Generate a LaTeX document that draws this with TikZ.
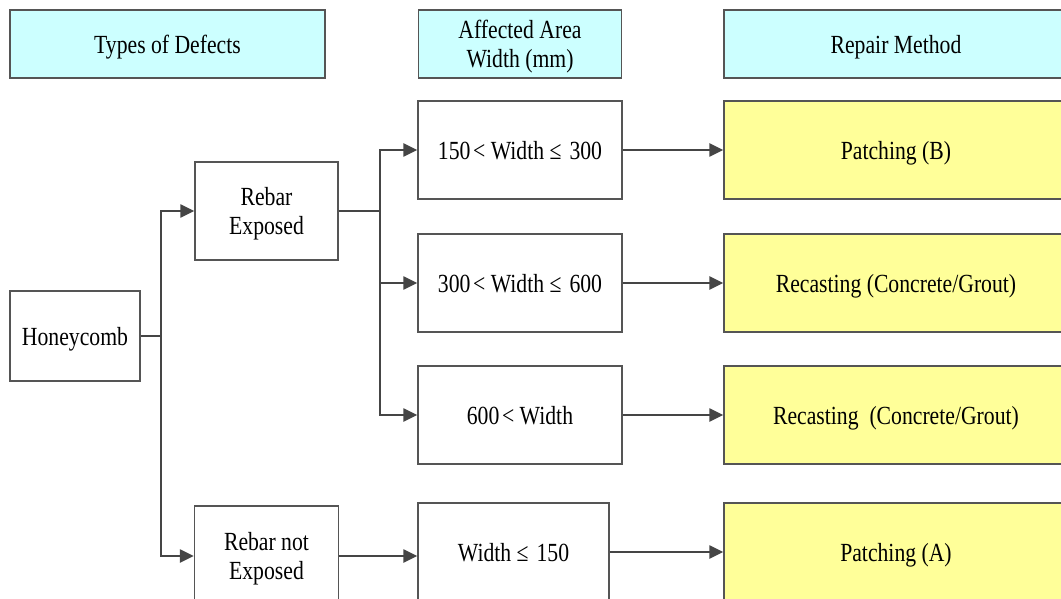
\documentclass[tikz,border=0pt]{standalone}
\usepackage{fontspec}
\setmainfont{Liberation Serif}[FakeStretch=0.83]
\usetikzlibrary{arrows.meta}
\definecolor{hdrfill}{HTML}{CCFFFF}
\definecolor{resfill}{HTML}{FFFF99}
\definecolor{edge}{HTML}{555555}
\definecolor{wire}{HTML}{454545}
\begin{document}
\begin{tikzpicture}[x=0.75pt,y=-0.75pt,
  box/.style={draw=edge, line width=1.1pt, align=center, inner sep=0pt,
    text depth=0pt, font=\fontsize{19.6}{22}\selectfont},
  hdr/.style={box, fill=hdrfill, minimum height=51pt},
  res/.style={box, fill=resfill, minimum width=258pt, minimum height=73.5pt},
  mid/.style={box, fill=white, minimum width=153pt, minimum height=73.5pt},
  wireline/.style={draw=wire, line width=1.1pt},
  arr/.style={wireline, -{Triangle[length=10.5pt,width=10pt]}}
]
\useasboundingbox (0,0) rectangle (1061,599);
\clip (0,0) rectangle (1061,599);

% column headings
\node[hdr, minimum width=236.25pt] (h1) at (167.5,44) {Types of Defects};
\node[hdr, minimum width=152.25pt] (h2) at (520,44) {Affected Area\\Width (mm)};
\node[hdr, minimum width=258pt] (h3) at (896,44) {Repair Method};

% defect type
\node[box, minimum width=97.5pt, minimum height=67.5pt] (honey) at (75,336) {Honeycomb};
\node[box, minimum width=107.25pt, minimum height=73.5pt] (rexp) at (266.5,211) {Rebar\\Exposed};
\node[box, minimum width=108pt, minimum height=75pt] (rnexp) at (266.5,556) {Rebar not\\Exposed};

% width ranges
\node[mid] (m1) at (520,150) {150\kern2pt< Width ≤\kern6pt 300};
\node[mid] (m2) at (520,283) {300\kern2pt< Width ≤\kern6pt 600};
\node[mid] (m3) at (520,415) {600\kern2pt< Width};
\node[mid, minimum width=143.25pt] (m4) at (513.5,552) {Width ≤\kern6pt 150};

% repair methods
\node[res] (r1) at (896,150) {Patching (B)};
\node[res] (r2) at (896,283) {Recasting (Concrete/Grout)};
\node[res] (r3) at (896,415) {Recasting\ \ (Concrete/Grout)};
\node[res] (r4) at (896,552) {Patching (A)};

% branch points
\coordinate (j1) at (161,336);
\coordinate (j2) at (380,211);

\draw[wireline] (honey.east) -- (j1);
\draw[arr] (j1) |- (rexp.west);
\draw[arr] (j1) |- (rnexp.west);

\draw[wireline] (rexp.east) -- (j2);
\draw[arr] (j2) |- (m1.west);
\draw[arr] (j2) |- (m2.west);
\draw[arr] (j2) |- (m3.west);

\draw[arr] (rnexp.east) -- (rnexp.east -| m4.west);

\draw[arr] (m1.east) -- (r1.west);
\draw[arr] (m2.east) -- (r2.west);
\draw[arr] (m3.east) -- (r3.west);
\draw[arr] (m4.east) -- (r4.west);
\end{tikzpicture}
\end{document}
